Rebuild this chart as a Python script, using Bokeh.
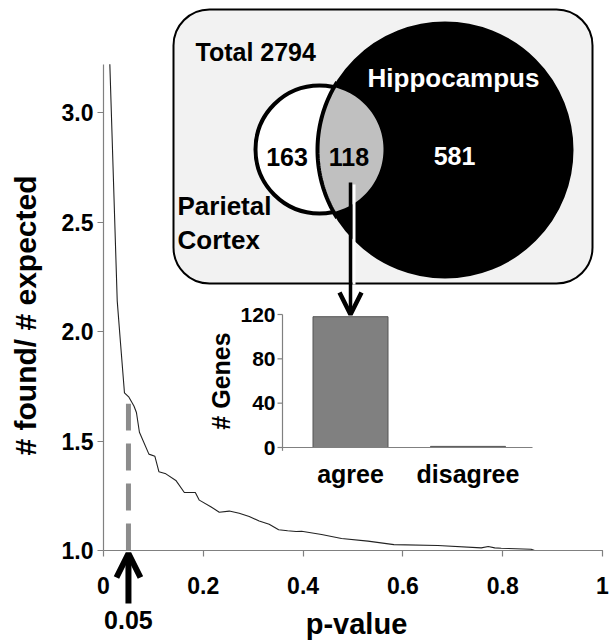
import numpy as np
from bokeh.plotting import figure
from bokeh.models import Range1d, LinearAxis, FixedTicker, Arrow, OpenHead
from bokeh.core.properties import value
from bokeh.embed import file_html
from bokeh.resources import INLINE

# ---- data ----
p_values = [0.0127, 0.0275, 0.034, 0.042, 0.051, 0.061, 0.066, 0.072, 0.091, 0.103,
            0.111, 0.125, 0.145, 0.162, 0.184, 0.192, 0.215, 0.232, 0.252, 0.272,
            0.292, 0.312, 0.332, 0.351, 0.369, 0.386, 0.397, 0.437, 0.477, 0.53,
            0.582, 0.67, 0.757, 0.771, 0.784, 0.797, 0.857, 0.864, 1.0]
ratio = [3.22, 2.14, 1.95, 1.72, 1.70, 1.66, 1.63, 1.54, 1.44, 1.43,
         1.36, 1.35, 1.32, 1.265, 1.265, 1.23, 1.20, 1.175, 1.18, 1.17,
         1.155, 1.135, 1.12, 1.095, 1.09, 1.087, 1.088, 1.073, 1.055, 1.043,
         1.027, 1.023, 1.012, 1.018, 1.012, 1.01, 1.006, 1.0, 1.0]
cutoff_p = 0.05
cutoff_label = "0.05"
cutoff_ratio = 1.67
x_ticks = [0, 0.2, 0.4, 0.6, 0.8, 1]
x_tick_labels = ["0", "0.2", "0.4", "0.6", "0.8", "1"]
y_ticks = [1.0, 1.5, 2.0, 2.5, 3.0]
y_tick_labels = ["1.0", "1.5", "2.0", "2.5", "3.0"]

categories = ["agree", "disagree"]
gene_counts = [118, 1]
inset_ticks = [0, 40, 80, 120]
inset_tick_labels = ["0", "40", "80", "120"]

total_genes = "Total 2794"
parietal_only = "163"
overlap = "118"
hippocampus_only = "581"

FONT = value("Liberation Sans")
W, H = 609, 643
X0, X1 = 103.0, 602.0       # pixel of p = 0 and p = 1
Y1, PX_PER_UNIT = 550.0, 219.0  # pixel of ratio = 1.0, px per ratio unit

# ---- figure (frame covers the whole canvas; axes are fixed inside it) ----
xr = Range1d(-X0 / (X1 - X0), (W - X0) / (X1 - X0))
yr = Range1d(1.0 - (H - Y1) / PX_PER_UNIT, 1.0 + Y1 / PX_PER_UNIT)
p = figure(frame_width=W, frame_height=H, x_range=xr, y_range=yr,
           x_axis_type=None, y_axis_type=None,
           min_border=0, min_border_left=0, min_border_right=0,
           min_border_top=0, min_border_bottom=0,
           output_backend="svg", toolbar_location=None)
p.outline_line_color = None
p.background_fill_color = "white"
p.border_fill_color = "white"

k_in = 133 / 120.0
p.extra_x_ranges = {"px": Range1d(0, W),
                    "bx": Range1d((0 - 350) / 117.5, (W - 350) / 117.5)}
p.extra_y_ranges = {"px": Range1d(H, 0),
                    "by": Range1d(-(H - 447) / k_in, 447 / k_in)}

def style_axis(ax):
    ax.axis_line_color = "#808080"
    ax.axis_line_width = 1.2
    ax.major_tick_line_color = "#808080"
    ax.major_tick_line_width = 1.2
    ax.major_tick_out = 6
    ax.major_tick_in = 0
    ax.minor_tick_line_color = None
    ax.major_label_text_font = "Liberation Sans"
    ax.major_label_text_font_style = "bold"
    ax.major_label_text_font_size = "23px"
    ax.major_label_text_color = "black"

xaxis = LinearAxis(ticker=FixedTicker(ticks=x_ticks), bounds=(0, 1), fixed_location=1.0,
                   major_label_overrides={t: l for t, l in zip(x_ticks, x_tick_labels)})
style_axis(xaxis)
xaxis.major_label_standoff = 20
p.add_layout(xaxis, "below")

yaxis = LinearAxis(ticker=FixedTicker(ticks=y_ticks), bounds=(1.0, 3.22), fixed_location=0.0,
                   major_label_overrides={t: l for t, l in zip(y_ticks, y_tick_labels)})
style_axis(yaxis)
yaxis.major_label_standoff = 4
p.add_layout(yaxis, "left")

def txt(x, y, s, color="black", size="25px", align="center", xrn="px", yrn="px", angle=0.0,
        baseline="alphabetic"):
    p.text(x=[x], y=[y], text=[s], x_range_name=xrn, y_range_name=yrn,
           text_font=FONT, text_font_style="bold", text_font_size=size,
           text_color=color, text_align=align, text_baseline=baseline, angle=angle)

# axis titles
txt(356, 623, "p-value", size="29px")
txt(25, 315, "# found/ # expected", size="30px", angle=np.pi / 2)

# curve
p.line(p_values, ratio, line_color="#222222", line_width=1.1)
# cutoff dashed line (drawn from axis upward)
p.line([cutoff_p, cutoff_p], [1.0, cutoff_ratio], line_color="#8c8c8c", line_width=5,
       line_dash="27 13")

# arrow at 0.05
p.add_layout(Arrow(x_start=cutoff_p, y_start=1.0 - 53 / PX_PER_UNIT,
                   x_end=cutoff_p, y_end=1.0 - 3 / PX_PER_UNIT,
                   line_color="black", line_width=6,
                   end=OpenHead(size=24, line_width=6, line_color="black")))
p.text(x=[cutoff_p], y=[1.0 - 69 / PX_PER_UNIT], text=[cutoff_label],
       text_font=FONT, text_font_style="bold", text_font_size="25px",
       text_color="black", text_align="center", text_baseline="alphabetic")

# ---- Venn inset ----
p.quad(left=[173], right=[592], top=[9], bottom=[283], x_range_name="px", y_range_name="px",
       fill_color="#f2f2f2", line_color="black", line_width=2, border_radius=36)

c1x, c1y, r1 = 319.0, 149.0, 64.0
c2x, c2y, r2 = 444.5, 149.5, 127.5
p.circle(x=[c2x], y=[c2y], radius=r2, x_range_name="px", y_range_name="px",
         fill_color="black", line_color="black", line_width=2)
p.circle(x=[c1x], y=[c1y], radius=r1, x_range_name="px", y_range_name="px",
         fill_color="white", line_color="black", line_width=4)

d = c2x - c1x
a = (d * d + r1 * r1 - r2 * r2) / (2 * d)
h = np.sqrt(r1 * r1 - a * a)
t1 = np.arctan2(h, a)
t2 = np.arctan2(h, d - a)
ang1 = np.linspace(-t1, t1, 60)
ang2 = np.linspace(np.pi - t2, np.pi + t2, 60)
lens_x = np.concatenate([c1x + r1 * np.cos(ang1), c2x + r2 * np.cos(ang2)])
lens_y = np.concatenate([c1y + r1 * np.sin(ang1), c2y + r2 * np.sin(ang2)])
p.patch(lens_x, lens_y, x_range_name="px", y_range_name="px",
        fill_color="#c0c0c0", line_color=None)
arc_ang = np.linspace(np.pi - t2 - 0.05, np.pi + t2 + 0.05, 60)
p.line(c2x + r2 * np.cos(arc_ang), c2y + r2 * np.sin(arc_ang),
       x_range_name="px", y_range_name="px", line_color="black", line_width=4)

txt(195, 51, total_genes, align="left", size="25px")
txt(453, 77, "Hippocampus", color="white", size="26px")
txt(286.5, 156, parietal_only, size="25px")
txt(348.5, 156, overlap, size="25px")
txt(454, 155, hippocampus_only, color="white", size="25px")
txt(177, 205, "Parietal", align="left", size="26px")
txt(177, 239, "Cortex", align="left", size="26px")

# arrow from overlap to bar
p.segment(x0=[353.5], y0=[184], x1=[353.5], y1=[284], x_range_name="px", y_range_name="px",
          line_color="white", line_width=3)
p.add_layout(Arrow(x_start=350, y_start=182, x_end=350, y_end=314,
                   x_range_name="px", y_range_name="px",
                   line_color="black", line_width=3.5,
                   end=OpenHead(size=22, line_width=4.5, line_color="black")))

# ---- bar inset ----
p.vbar(x=[0, 1], top=gene_counts, bottom=0, width=75 / 117.5,
       x_range_name="bx", y_range_name="by",
       fill_color="#808080", line_color="#555555", line_width=1)
p.segment(x0=[282], y0=[0], x1=[532], y1=[0], x_range_name="px", y_range_name="by",
          line_color="#808080", line_width=1.2)
p.segment(x0=[282], y0=[-3], x1=[282], y1=[120], x_range_name="px", y_range_name="by",
          line_color="#808080", line_width=1.2)
p.segment(x0=[277] * len(inset_ticks), y0=inset_ticks, x1=[282] * len(inset_ticks),
          y1=inset_ticks, x_range_name="px", y_range_name="by",
          line_color="#808080", line_width=1.2)
p.text(x=[275] * len(inset_ticks), y=inset_ticks, text=inset_tick_labels,
       x_range_name="px", y_range_name="by", text_font=FONT, text_font_style="bold",
       text_font_size="21px", text_color="black", text_align="right", text_baseline="middle")
p.text(x=[0, 1], y=[473, 473], text=categories, x_range_name="bx", y_range_name="px",
       text_font=FONT, text_font_style="bold", text_font_size="25px", text_color="black",
       text_align="center", text_baseline="alphabetic")
txt(220, 60, "# Genes", size="25px", xrn="px", yrn="by", angle=np.pi / 2, baseline="middle")

open("out.html", "w").write(file_html(p, INLINE))
